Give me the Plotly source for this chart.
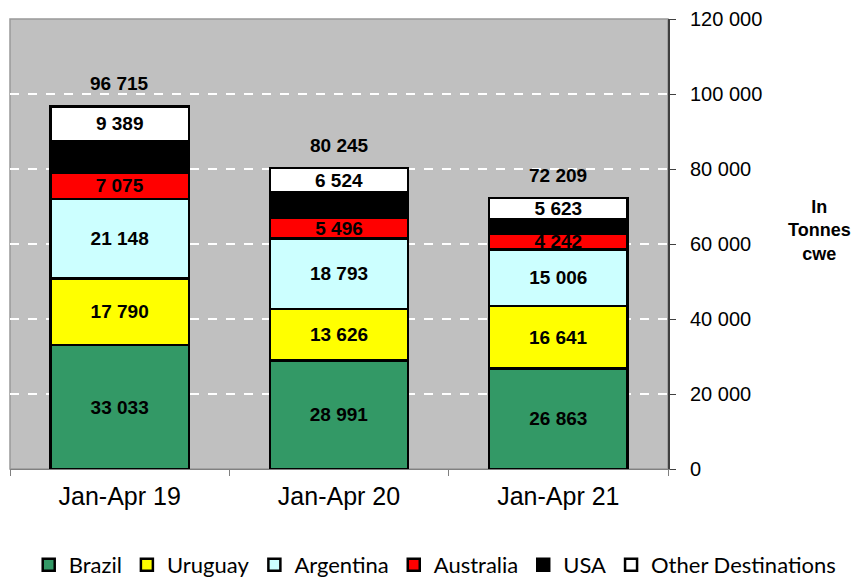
import plotly.graph_objects as go

categories = ["Jan-Apr 19", "Jan-Apr 20", "Jan-Apr 21"]
brazil = [33033, 28991, 26863]
uruguay = [17790, 13626, 16641]
argentina = [21148, 18793, 15006]
australia = [7075, 5496, 4242]
usa = [8280, 6815, 3834]
other = [9389, 6524, 5623]
totals = [96715, 80245, 72209]

series = [
    ("Brazil", brazil, "#339966", True),
    ("Uruguay", uruguay, "#FFFF00", True),
    ("Argentina", argentina, "#CCFFFF", True),
    ("Australia", australia, "#FF0000", True),
    ("USA", usa, "#000000", False),
    ("Other Destinations", other, "#FFFFFF", True),
]

def fmt(v):
    return f"{v:,}".replace(",", " ")

fig = go.Figure()
for name, vals, color, show in series:
    fig.add_trace(go.Bar(
        x=categories, y=vals, name=name,
        marker=dict(color=color, line=dict(color="black", width=2.5)),
        text=[fmt(v) for v in vals] if show else None,
        textposition="inside" if show else "none",
        insidetextanchor="middle",
        constraintext="none",
        textfont=dict(family="Liberation Sans, Arial", size=19, color="black", weight="bold"),
        width=0.63,
    ))

for c, t in zip(categories, totals):
    fig.add_annotation(x=c, y=t, text=f"<b>{fmt(t)}</b>", showarrow=False,
                       yanchor="bottom", yshift=10,
                       font=dict(family="Liberation Sans, Arial", size=19, color="black"))

fig.add_annotation(xref="paper", yref="paper", x=(811 - 2) / 658, y=0.53,
                   xanchor="center", yanchor="middle",
                   text="<b>In<br>Tonnes<br>cwe</b>", showarrow=False,
                   font=dict(family="Liberation Sans, Arial", size=18, color="black"),
                   align="center")

fig.add_shape(type="rect", xref="paper", yref="paper", x0=0, y0=0, x1=1, y1=1,
              line=dict(color="#999999", width=1.5), layer="below")

fig.update_layout(
    barmode="stack",
    width=860, height=580,
    margin=dict(l=2, r=200, t=11, b=119, autoexpand=False),
    plot_bgcolor="#C0C0C0",
    paper_bgcolor="white",
    separators=". ",
    showlegend=True,
    legend=dict(orientation="h", x=1.264, xanchor="right", y=-0.213, yanchor="middle",
                font=dict(family="Lato, Open Sans", size=22, color="black"),
                traceorder="normal", itemwidth=30),
    xaxis=dict(showline=True, linecolor="#808080", linewidth=1,
               ticks="outside", tickcolor="#808080", ticklen=6,
               ticklabelstandoff=5,
               tickfont=dict(family="Liberation Sans, Arial", size=25, color="black"),
               tickson="boundaries"),
    yaxis=dict(side="right", range=[0, 120000], dtick=20000, tickformat=",d",
               showgrid=True, gridcolor="white", griddash="dash", gridwidth=2,
               showline=True, linecolor="#404040", linewidth=2,
               ticks="outside", tickcolor="#404040", ticklen=6,
               ticklabelstandoff=10, ticklabeloverflow="allow",
               tickfont=dict(family="Liberation Sans, Arial", size=20, color="black"),
               zeroline=False),
)

fig.write_html("out.html")
